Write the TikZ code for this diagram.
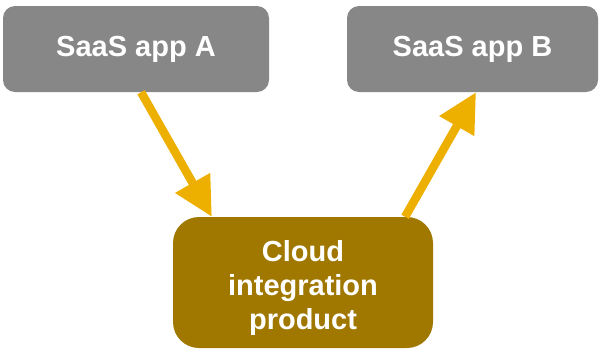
\documentclass[tikz,border=0pt]{standalone}
\usepackage{fontspec}
\setmainfont{Liberation Sans}
\usetikzlibrary{arrows.meta,calc}
\definecolor{appgray}{HTML}{878787}
\definecolor{arrowgold}{HTML}{EDB000}
\definecolor{cloudbrown}{HTML}{A07800}
\tikzset{
  appbox/.style={fill=appgray, rounded corners=12pt, inner sep=0pt,
    text=white, font=\bfseries\fontsize{29}{34}\selectfont},
  cloudbox/.style={fill=cloudbrown, rounded corners=26pt, inner sep=0pt},
  cloudtext/.style={text=white, align=center, inner sep=0pt,
    font=\bfseries\fontsize{29}{34}\selectfont},
  flow/.style={draw=arrowgold, line width=8.5pt,
    -{Triangle[length=39pt,width=38pt]}}
}
\begin{document}
\begin{tikzpicture}[x=1pt,y=-1pt]
\useasboundingbox (0,0) rectangle (600,349);
\node[appbox, minimum width=266pt, minimum height=86pt] (A) at (136,49) {SaaS app A};
\node[appbox, minimum width=251pt, minimum height=86pt] (B) at (472.5,49) {SaaS app B};
\node[cloudbox, minimum width=260pt, minimum height=131pt] (C) at (303,282.5) {};
\node[cloudtext] (Ct) at (303,287.5) {Cloud\\integration\\product};
\coordinate (a1) at ($(A.south west)!0.519!(A.south east)$);
\coordinate (c1) at ($(C.north west)!0.15!(C.north east)$);
\coordinate (c2) at ($(C.north west)!0.892!(C.north east)$);
\coordinate (b1) at ($(B.south west)!0.514!(B.south east)$);
\draw[flow] (a1) -- (c1);
\draw[flow] (c2) -- (b1);
\end{tikzpicture}
\end{document}
